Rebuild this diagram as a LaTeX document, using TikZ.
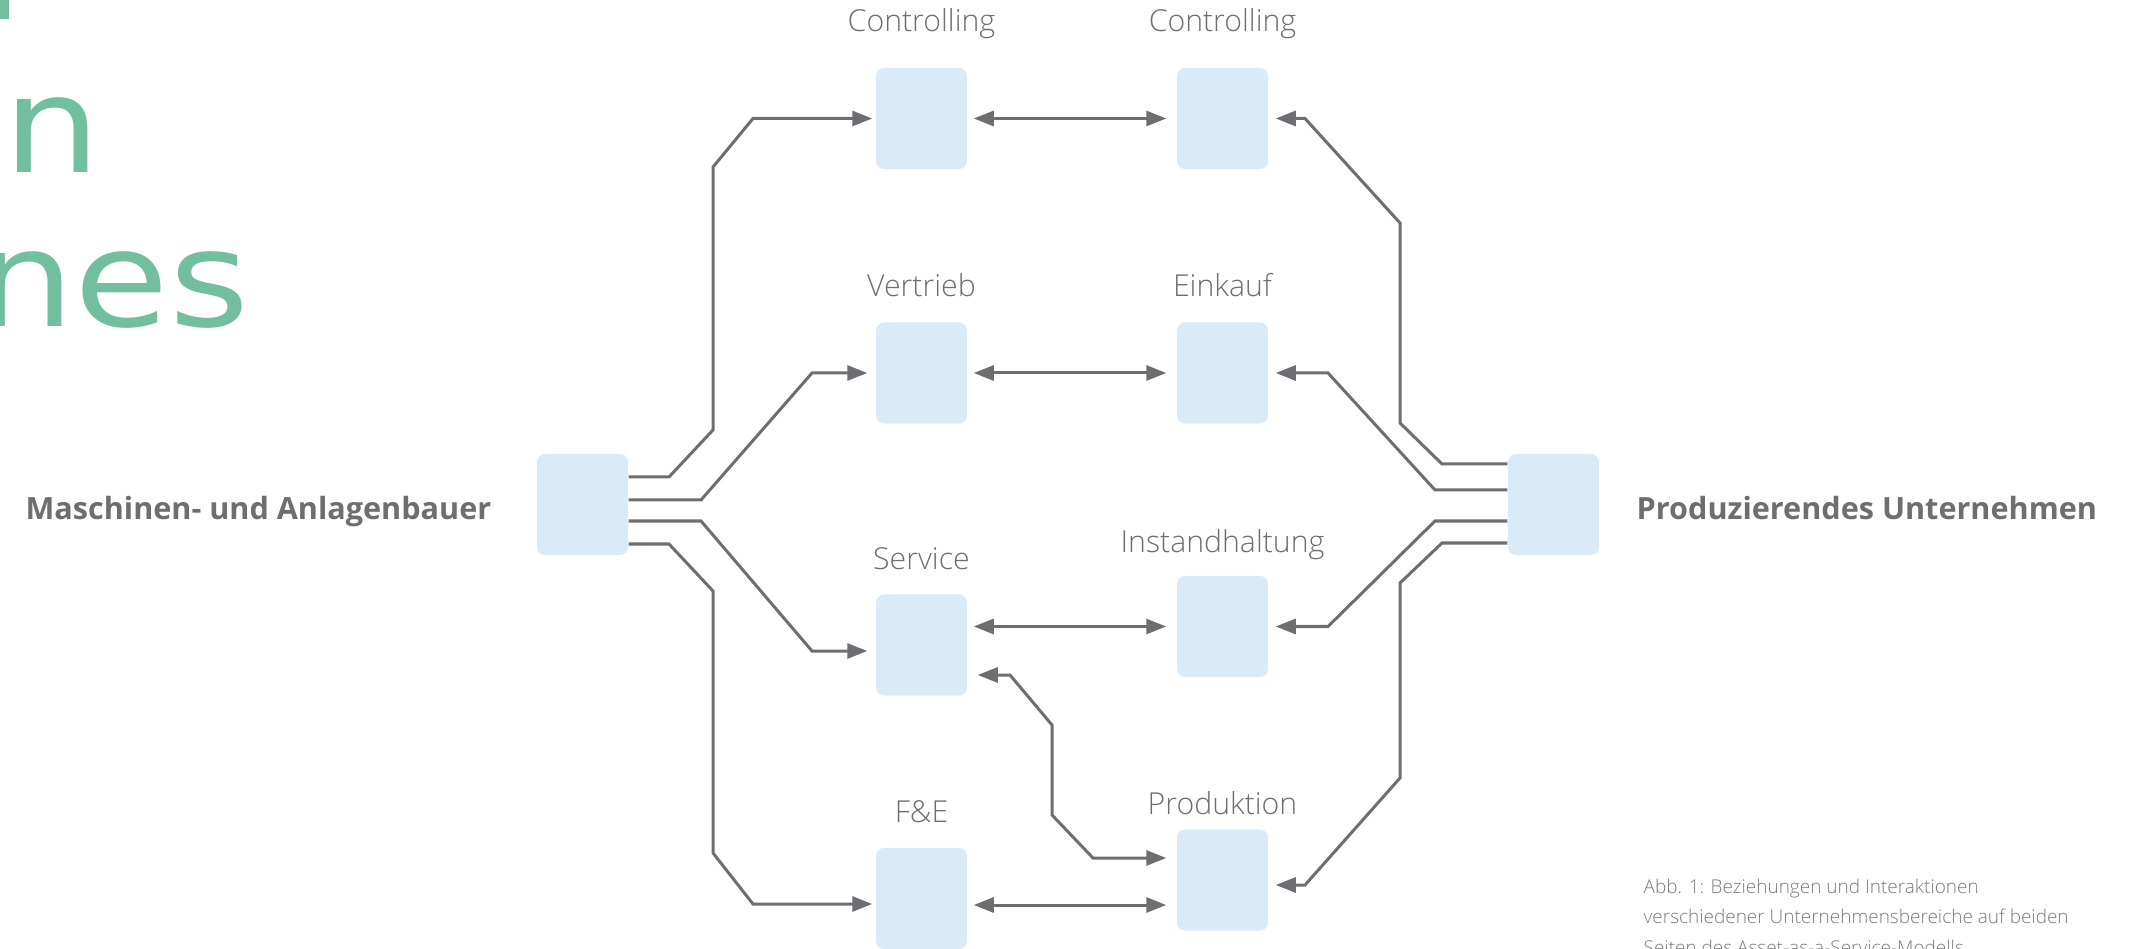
\documentclass[tikz,border=0pt]{standalone}
\usepackage{fontspec}
\usepackage{graphicx}
\setmainfont{Open Sans}
\newfontfamily\titlefont{DejaVu Sans}
\IfFontExistsTF{Open Sans Light}{\newfontfamily\lightfont{Open Sans Light}}{\let\lightfont\relax}
\usetikzlibrary{arrows.meta,calc}
\definecolor{boxblue}{HTML}{DAEAF6}
\definecolor{wiregray}{HTML}{6E6E72}
\definecolor{textgray}{HTML}{6E6E72}
\definecolor{capgray}{HTML}{7A7A7A}
\definecolor{titlegreen}{HTML}{72BF9F}
\begin{document}
\begin{tikzpicture}[x=0.01cm,y=-0.01cm,every node/.style={inner sep=0pt},
  box/.style={fill=boxblue,rounded corners=0.08cm,minimum width=0.91cm,minimum height=1.01cm},
  lbl/.style={anchor=base,text=textgray,font=\lightfont\fontsize{8.6}{10}\selectfont},
  side/.style={text=textgray,font=\fontsize{8.7}{10}\selectfont\bfseries},
  title/.style={text=titlegreen,font=\titlefont\fontsize{38}{38}\selectfont},
  wire/.style={draw=wiregray,line width=0.03cm,-{Triangle[length=0.2cm,width=0.15cm]}},
  twoway/.style={wire,{Triangle[length=0.2cm,width=0.15cm]}-{Triangle[length=0.2cm,width=0.15cm]}}]
  \useasboundingbox (0,0) rectangle (2133,949);
  \clip (0,0) rectangle (2133,949);
  \fill[titlegreen] (0,0) rectangle (9,19);
  \node[title,anchor=base west] (t1) at (3,173) {\scalebox{1.15}[1]{n}};
  \node[title,anchor=base east] (t2) at (250,327) {\scalebox{1.15}[1]{nes}};
  \node[box] (m) at (582.5,504.5) {};
  \node[box] (pu) at (1553.5,504.5) {};
  \node[box] (cl) at (921.5,118.5) {};
  \node[box] (cr) at (1222.5,118.5) {};
  \node[box] (v) at (921.5,373) {};
  \node[box] (e) at (1222.5,373) {};
  \node[box] (s) at (921.5,645) {};
  \node[box] (i) at (1222.5,626.5) {};
  \node[box] (f) at (921.5,898.5) {};
  \node[box] (p) at (1222.5,880) {};
  \node[lbl] (lcl) at (921.5,32) {Controlling};
  \node[lbl] (lcr) at (1222.5,32) {Controlling};
  \node[lbl] (lv) at (921.5,297) {Vertrieb};
  \node[lbl] (le) at (1222.5,297) {Einkauf};
  \node[lbl] (ls) at (921.5,569) {Service};
  \node[lbl] (li) at (1222.5,552) {Instandhaltung};
  \node[lbl] (lf) at (921.5,822) {F\&E};
  \node[lbl] (lp) at (1222.5,814) {Produktion};
  \node[side,anchor=base east] (lm) at (492,520) {Maschinen- und Anlagenbauer};
  \node[side,anchor=base west] (lpu) at (1636,520) {Produzierendes Unternehmen};
  \node[anchor=north west,align=left,text=capgray,font=\lightfont\fontsize{5.4}{8.7}\selectfont] (cap) at (1643,878)
    {Abb. 1: Beziehungen und Interaktionen\\verschiedener Unternehmensbereiche auf beiden\\Seiten des Asset-as-a-Service-Modells};
  \draw[wire,shorten >=0.03cm] ($(m.east)+(0,-27.5)$) -- (669,477) -- (713,430) -- (713,167) -- (753,118.5) -- (cl.west);
  \draw[wire,shorten >=0.08cm] ($(m.east)+(0,-4.5)$) -- (701,500) -- (812,373) -- (v.west);
  \draw[wire,shorten >=0.08cm] ($(m.east)+(0,16.5)$) -- (701,521) -- (812,651) -- ($(s.west)+(0,6)$);
  \draw[wire,shorten >=0.03cm] ($(m.east)+(0,39.5)$) -- (669,544) -- (713,591) -- (713,853) -- (753,904) -- ($(f.west)+(0,5.5)$);
  \draw[wire,shorten >=0.07cm] ($(pu.west)+(0,-40.5)$) -- (1442,464) -- (1400,423) -- (1400,223) -- (1305,118.5) -- (cr.east);
  \draw[wire,shorten >=0.07cm] ($(pu.west)+(0,-14.5)$) -- (1435,490) -- (1328,373) -- (e.east);
  \draw[wire,shorten >=0.07cm] ($(pu.west)+(0,16.5)$) -- (1435,521) -- (1328,626.5) -- (i.east);
  \draw[wire,shorten >=0.07cm] ($(pu.west)+(0,38.5)$) -- (1442,543) -- (1400,583) -- (1400,778) -- (1305,885) -- ($(p.east)+(0,5)$);
  \draw[twoway,shorten <=0.06cm,shorten >=0.1cm] (cl) -- (cr);
  \draw[twoway,shorten <=0.06cm,shorten >=0.1cm] (v) -- (e);
  \draw[twoway,shorten <=0.06cm,shorten >=0.1cm] (s.east |- i.west) -- (i.west);
  \draw[twoway,shorten <=0.06cm,shorten >=0.1cm] ($(f.east)+(0,6.5)$) coordinate (fe) -- (fe -| p.west);
  \draw[twoway,shorten <=0.1cm,shorten >=0.1cm] ($(p.west)+(0,-22)$) -- (1093,858) -- (1052,815) -- (1052,725) -- (1010,675) -- ($(s.east)+(0,30)$);
\end{tikzpicture}
\end{document}
